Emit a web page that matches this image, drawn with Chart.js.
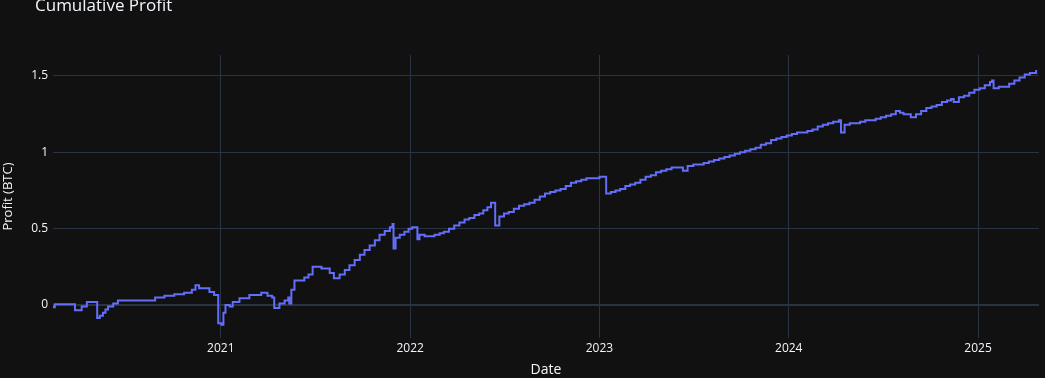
<!DOCTYPE html>
<html>
<head>
<meta charset="utf-8">
<script src="https://cdn.jsdelivr.net/npm/chart.js@4.4.1/dist/chart.umd.min.js"></script>
<style>
  html, body { margin: 0; padding: 0; background: #111111; }
  #chart { display: block; }
</style>
</head>
<body>
<canvas id="chart" width="1045" height="378"></canvas>
<script>
// cumulative profit (step line)
const dates = [
  '2020-02-06','2020-02-12','2020-02-15','2020-03-25','2020-04-07','2020-04-17',
  '2020-05-07','2020-05-12','2020-05-18','2020-05-23','2020-05-28','2020-06-07',
  '2020-06-16','2020-08-17','2020-08-27','2020-09-14','2020-10-03','2020-10-22',
  '2020-11-06','2020-11-13','2020-11-20','2020-12-10','2020-12-19','2020-12-27',
  '2021-01-02','2021-01-06','2021-01-10','2021-01-18','2021-01-24','2021-02-06',
  '2021-02-25','2021-03-20','2021-04-01','2021-04-10','2021-04-14','2021-04-24',
  '2021-05-04','2021-05-11','2021-05-13','2021-05-17','2021-05-23','2021-06-11',
  '2021-06-19','2021-06-27','2021-07-14','2021-07-30','2021-08-07','2021-08-18',
  '2021-08-28','2021-09-06','2021-09-16','2021-09-26','2021-10-05','2021-10-15',
  '2021-10-25','2021-11-03','2021-11-13','2021-11-23','2021-11-28','2021-11-30',
  '2021-12-04','2021-12-12','2021-12-21','2021-12-29','2022-01-05','2022-01-15',
  '2022-01-19','2022-01-29','2022-02-07','2022-02-17','2022-02-27','2022-03-07',
  '2022-03-17','2022-03-27','2022-04-06','2022-04-16','2022-04-25','2022-05-05',
  '2022-05-14','2022-05-22','2022-05-30','2022-06-06','2022-06-14','2022-06-22',
  '2022-07-01','2022-07-10','2022-07-20','2022-07-30','2022-08-09','2022-08-19',
  '2022-08-29','2022-09-08','2022-09-18','2022-09-28','2022-10-08','2022-10-18',
  '2022-10-28','2022-11-07','2022-11-17','2022-11-27','2022-12-07','2022-12-20',
  '2023-01-01','2023-01-10','2023-01-14','2023-01-23','2023-02-01','2023-02-10',
  '2023-02-20','2023-03-01','2023-03-11','2023-03-21','2023-03-31','2023-04-10',
  '2023-04-20','2023-04-30','2023-05-10','2023-05-20','2023-05-30','2023-06-11',
  '2023-06-20','2023-07-01','2023-07-11','2023-07-21','2023-07-31','2023-08-10',
  '2023-08-20','2023-08-30','2023-09-09','2023-09-19','2023-09-29','2023-10-09',
  '2023-10-19','2023-10-29','2023-11-08','2023-11-18','2023-11-28','2023-12-08',
  '2023-12-18','2023-12-28','2024-01-07','2024-01-17','2024-01-27','2024-02-06',
  '2024-02-16','2024-02-26','2024-03-07','2024-03-17','2024-03-27','2024-04-07',
  '2024-04-11','2024-04-18','2024-04-28','2024-05-08','2024-05-18','2024-05-28',
  '2024-06-07','2024-06-17','2024-06-27','2024-07-07','2024-07-17','2024-07-26',
  '2024-08-03','2024-08-10','2024-08-24','2024-09-03','2024-09-13','2024-09-23',
  '2024-10-03','2024-10-13','2024-10-23','2024-11-02','2024-11-10','2024-11-15',
  '2024-11-25','2024-12-05','2024-12-15','2024-12-25','2025-01-04','2025-01-14',
  '2025-01-24','2025-01-28','2025-01-31','2025-02-10','2025-02-20','2025-03-02',
  '2025-03-12','2025-03-22','2025-04-01','2025-04-11','2025-04-23'
];
const profit = [
  -0.01, -0.015, 0.005, -0.035, -0.01, 0.02,
  -0.085, -0.07, -0.05, -0.03, -0.01, 0.01,
  0.03, 0.03, 0.05, 0.06, 0.07, 0.08,
  0.1, 0.13, 0.11, 0.085, 0.065, -0.12,
  -0.13, -0.05, 0.0, -0.01, 0.02, 0.045,
  0.065, 0.08, 0.06, 0.05, -0.02, 0.01,
  0.03, 0.05, 0.01, 0.1, 0.16, 0.18,
  0.2, 0.25, 0.24, 0.21, 0.175, 0.2,
  0.23, 0.26, 0.295, 0.33, 0.36, 0.39,
  0.425, 0.46, 0.485, 0.51, 0.53, 0.37,
  0.44, 0.46, 0.48, 0.5, 0.51, 0.43,
  0.46, 0.45, 0.45, 0.46, 0.47, 0.48,
  0.5, 0.52, 0.54, 0.56, 0.57, 0.59,
  0.6, 0.62, 0.64, 0.67, 0.52, 0.58,
  0.6, 0.61, 0.63, 0.65, 0.66, 0.67,
  0.69, 0.71, 0.73, 0.74, 0.75, 0.76,
  0.78, 0.8, 0.81, 0.82, 0.83, 0.83,
  0.84, 0.84, 0.73, 0.74, 0.75, 0.76,
  0.78, 0.79, 0.8, 0.82, 0.84, 0.85,
  0.87, 0.88, 0.89, 0.9, 0.9, 0.88,
  0.91, 0.92, 0.92, 0.93, 0.94, 0.95,
  0.96, 0.97, 0.98, 0.99, 1.0, 1.01,
  1.02, 1.03, 1.05, 1.06, 1.08, 1.09,
  1.1, 1.11, 1.12, 1.13, 1.13, 1.14,
  1.15, 1.17, 1.18, 1.19, 1.2, 1.21,
  1.13, 1.18, 1.19, 1.19, 1.2, 1.21,
  1.21, 1.22, 1.23, 1.24, 1.25, 1.27,
  1.26, 1.25, 1.23, 1.25, 1.27, 1.29,
  1.3, 1.31, 1.33, 1.34, 1.35, 1.33,
  1.36, 1.37, 1.39, 1.41, 1.42, 1.44,
  1.46, 1.47, 1.42, 1.43, 1.43, 1.45,
  1.47, 1.49, 1.51, 1.52, 1.54
];
const yearTicks = [2021, 2022, 2023, 2024, 2025];
const profitTicks = [0, 0.5, 1, 1.5];

const textColor = '#f2f5fa';
const gridColor = '#283442';

function toYear(s) {
  const d = new Date(s + 'T00:00:00Z');
  const y = d.getUTCFullYear();
  const a = Date.UTC(y, 0, 1), b = Date.UTC(y + 1, 0, 1);
  return y + (d.getTime() - a) / (b - a);
}

const points = dates.map((d, i) => ({ x: toYear(d), y: profit[i] }));

// plot title sits above the plot, partly clipped like the original
const titlePlugin = {
  id: 'plotTitle',
  afterDraw: (chart) => {
    const ctx = chart.ctx;
    ctx.save();
    ctx.fillStyle = textColor;
    ctx.font = '17px "Open Sans"';
    ctx.textBaseline = 'alphabetic';
    ctx.fillText('Cumulative Profit', 35, 11);
    ctx.restore();
  }
};

new Chart(document.getElementById('chart'), {
  type: 'line',
  data: {
    datasets: [{
      label: 'Cumulative Profit',
      data: points,
      borderColor: '#636efa',
      borderWidth: 2,
      pointRadius: 0,
      stepped: true,
      fill: false
    }]
  },
  options: {
    responsive: false,
    animation: false,
    devicePixelRatio: 1,
    layout: { padding: { top: 55, right: 6, left: 0, bottom: 0 } },
    plugins: {
      legend: { display: false },
      tooltip: { enabled: false }
    },
    scales: {
      x: {
        type: 'linear',
        min: 2020.1135,
        max: 2025.322,
        afterBuildTicks: (axis) => { axis.ticks = yearTicks.map(v => ({ value: v })); },
        afterFit: (axis) => { axis.height = 40; },
        ticks: {
          color: textColor,
          font: { family: 'Open Sans', size: 12 },
          padding: 3,
          maxRotation: 0,
          autoSkip: false,
          callback: (v) => String(v)
        },
        grid: { color: gridColor, lineWidth: 1, drawTicks: false },
        border: { display: false },
        title: {
          display: true,
          text: 'Date',
          color: textColor,
          font: { family: 'Open Sans', size: 14 },
          padding: { top: 0, bottom: 0 }
        }
      },
      y: {
        min: -0.216,
        max: 1.6375,
        afterBuildTicks: (axis) => { axis.ticks = profitTicks.map(v => ({ value: v })); },
        afterFit: (axis) => { axis.width = 53; },
        ticks: {
          color: textColor,
          font: { family: 'Open Sans', size: 12 },
          padding: 5,
          callback: (v) => String(v)
        },
        grid: {
          color: gridColor,
          lineWidth: (c) => (c.tick && c.tick.value === 0 ? 2 : 1),
          drawTicks: false
        },
        border: { display: false },
        title: {
          display: true,
          text: 'Profit (BTC)',
          color: textColor,
          font: { family: 'Open Sans', size: 13 },
          padding: { top: 0, bottom: 0 }
        }
      }
    }
  },
  plugins: [titlePlugin]
});
</script>
</body>
</html>
